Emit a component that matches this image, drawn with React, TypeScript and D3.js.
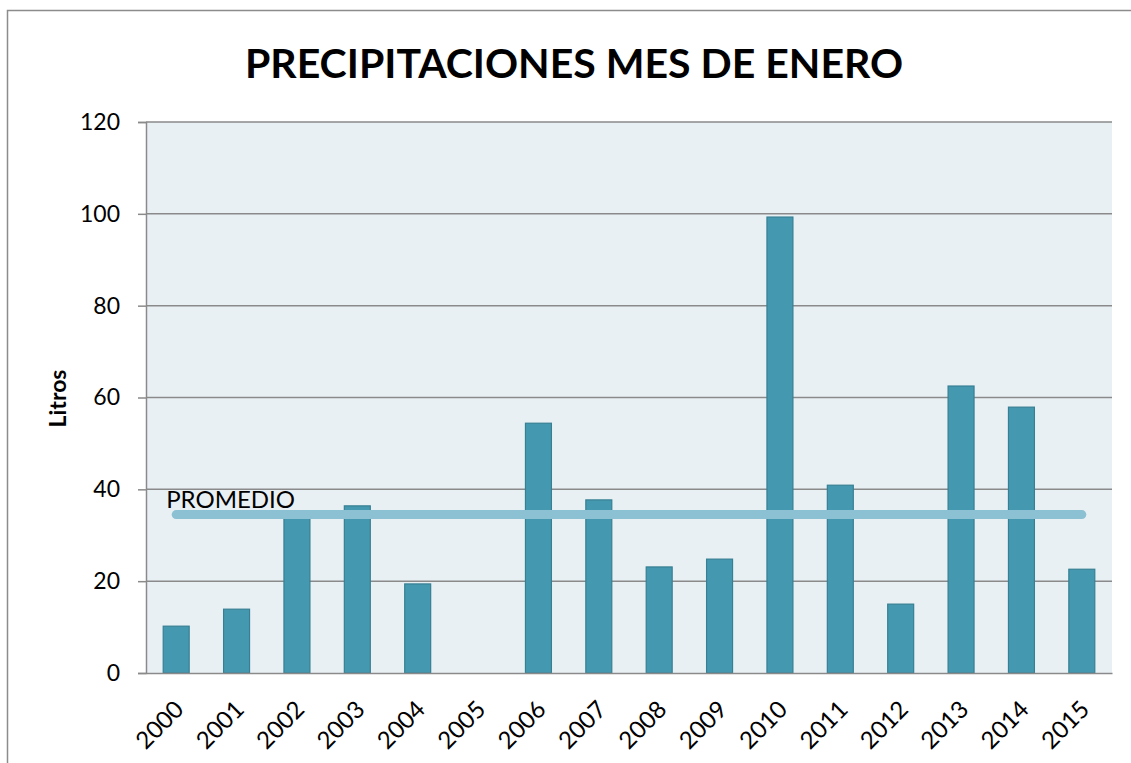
import React, { useEffect, useRef } from "react";
import * as d3 from "d3";

const years = ["2000", "2001", "2002", "2003", "2004", "2005", "2006", "2007", "2008", "2009", "2010", "2011", "2012", "2013", "2014", "2015"];
const litros = [10.2, 13.9, 35.0, 36.4, 19.4, 0, 54.4, 37.7, 23.1, 24.8, 99.3, 40.9, 15.0, 62.5, 57.9, 22.6];
const promedio = 34.5;
const yTicks = [0, 20, 40, 60, 80, 100, 120];

const FONT = "Lato, 'Open Sans', sans-serif";

const App = () => {
  const svgRef = useRef<SVGSVGElement>(null);

  useEffect(() => {
    const svg = d3.select(svgRef.current);
    svg.selectAll("*").remove();

    const width = 1131;
    const height = 763;
    const margin = { top: 122, right: 19, bottom: 90, left: 146 };
    const chartWidth = width - margin.left - margin.right;
    const chartHeight = height - margin.top - margin.bottom;

    // outer chart frame
    svg.append("rect")
      .attr("x", 7.5)
      .attr("y", 10.5)
      .attr("width", 1140)
      .attr("height", 800)
      .attr("fill", "white")
      .attr("stroke", "#8c8c8c")
      .attr("stroke-width", 1.5);

    svg.append("text")
      .attr("x", 574)
      .attr("y", 78)
      .attr("text-anchor", "middle")
      .attr("font-family", FONT)
      .attr("font-weight", "bold")
      .attr("font-size", 41)
      .text("PRECIPITACIONES MES DE ENERO");

    const x = d3.scaleBand().domain(years).range([0, chartWidth]).paddingInner(0.57).paddingOuter(0.285);
    const y = d3.scaleLinear().domain([0, 120]).range([chartHeight, 0]);

    const g = svg.append("g").attr("transform", `translate(${margin.left},${margin.top})`);

    g.append("rect")
      .attr("width", chartWidth)
      .attr("height", chartHeight)
      .attr("fill", "#e8f0f4");

    // gridlines
    g.selectAll(".grid")
      .data(yTicks.filter((d) => d > 0))
      .enter()
      .append("line")
      .attr("x1", 0)
      .attr("x2", chartWidth)
      .attr("y1", (d) => y(d))
      .attr("y2", (d) => y(d))
      .attr("stroke", "#8a8a8a")
      .attr("stroke-width", 1.5);

    // y axis
    const yAxis = g.append("g").call(d3.axisLeft(y).tickValues(yTicks).tickSize(8).tickPadding(18));
    yAxis.select(".domain").attr("stroke", "#8a8a8a").attr("stroke-width", 1.5);
    yAxis.selectAll(".tick line").attr("stroke", "#8a8a8a").attr("stroke-width", 1.5);
    yAxis.selectAll(".tick text")
      .attr("font-family", FONT)
      .attr("font-size", 23)
      .attr("fill", "#000");

    // bars
    g.selectAll(".bar")
      .data(litros)
      .enter()
      .append("rect")
      .attr("class", "bar")
      .attr("x", (d, i) => x(years[i]))
      .attr("y", (d) => y(d))
      .attr("width", x.bandwidth())
      .attr("height", (d) => chartHeight - y(d))
      .attr("fill", "#4499b0")
      .attr("stroke", (d) => (d > 0 ? "#377f93" : "none"))
      .attr("stroke-width", 1.2);

    // x axis
    const xAxis = g.append("g")
      .attr("transform", `translate(0,${chartHeight})`)
      .call(d3.axisBottom(x).tickSize(0).tickPadding(0));
    xAxis.select(".domain").attr("stroke", "#8a8a8a").attr("stroke-width", 1.5);
    xAxis.selectAll(".tick text")
      .attr("font-family", FONT)
      .attr("font-size", 24)
      .attr("fill", "#000")
      .attr("text-anchor", "end")
      .attr("dy", null)
      .attr("transform", "translate(9,38) rotate(-45)");

    // average line
    const avgLine = d3.line<string>()
      .x((d) => x(d) + x.bandwidth() / 2)
      .y(() => y(promedio));
    g.append("path")
      .datum(years)
      .attr("d", avgLine)
      .attr("fill", "none")
      .attr("stroke", "#8cc0d3")
      .attr("stroke-width", 9)
      .attr("stroke-linecap", "round");

    g.append("text")
      .attr("x", x(years[0]) + 3)
      .attr("y", y(promedio) - 7)
      .attr("font-family", FONT)
      .attr("font-size", 24)
      .attr("fill", "#000")
      .text("PROMEDIO");

    svg.append("text")
      .attr("transform", `translate(66,${margin.top + chartHeight / 2 + 1}) rotate(-90)`)
      .attr("text-anchor", "middle")
      .attr("font-family", FONT)
      .attr("font-weight", "bold")
      .attr("font-size", 23)
      .text("Litros");
  }, []);

  return (
    <div style={{ position: "absolute", left: 0, top: 0 }}>
      <svg ref={svgRef} width={1131} height={763} style={{ display: "block" }}></svg>
    </div>
  );
};

export default App;
